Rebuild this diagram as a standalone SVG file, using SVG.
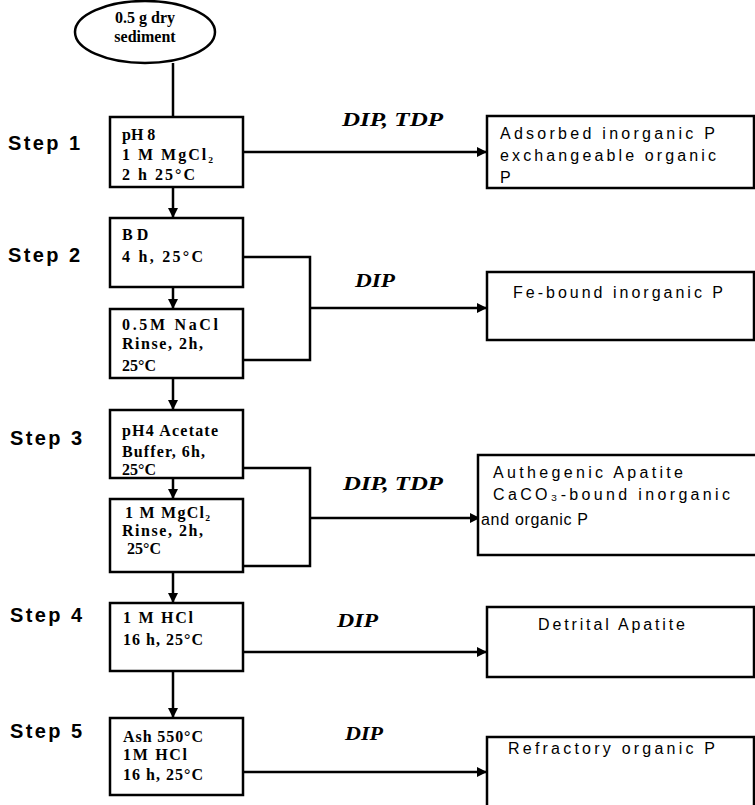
<svg xmlns="http://www.w3.org/2000/svg" width="755" height="805" viewBox="0 0 755 805">
<style>
.box{fill:#fff;stroke:#000;stroke-width:2.5}
.ln{fill:none;stroke:#000;stroke-width:2.5}
.st{font-family:"Liberation Sans",Arial,sans-serif;font-weight:bold;font-size:20px;fill:#000}
.lt{font-family:"Liberation Serif","Times New Roman",serif;font-weight:bold;font-size:16px;fill:#000}
.rt{font-family:"Liberation Sans",Arial,sans-serif;font-size:16px;fill:#000}
.lb{font-family:"Liberation Serif","Times New Roman",serif;font-style:italic;font-weight:bold;font-size:18px;fill:#000}
</style>
<defs>
<marker id="ah" viewBox="0 0 10 10" refX="10" refY="5" markerWidth="10" markerHeight="10" markerUnits="userSpaceOnUse" orient="auto">
<path d="M0,0 L10,5 L0,10 z" fill="#000"/>
</marker>
</defs>

<g id="connectors">
<line class="ln" x1="173" y1="63" x2="173" y2="117"/>
<line class="ln" x1="173" y1="187" x2="173" y2="218" marker-end="url(#ah)"/>
<line class="ln" x1="173" y1="287" x2="173" y2="309" marker-end="url(#ah)"/>
<line class="ln" x1="173" y1="378" x2="173" y2="410" marker-end="url(#ah)"/>
<line class="ln" x1="173" y1="478" x2="173" y2="499" marker-end="url(#ah)"/>
<line class="ln" x1="173" y1="572" x2="173" y2="603" marker-end="url(#ah)"/>
<line class="ln" x1="173" y1="671" x2="173" y2="718" marker-end="url(#ah)"/>
<line class="ln" x1="243" y1="152" x2="487" y2="152" marker-end="url(#ah)"/>
<polyline class="ln" points="243,257 310,257 310,360 243,360"/>
<line class="ln" x1="310" y1="308" x2="487" y2="308" marker-end="url(#ah)"/>
<polyline class="ln" points="243,468 310,468 310,566 243,566"/>
<line class="ln" x1="310" y1="518" x2="480" y2="518" marker-end="url(#ah)"/>
<line class="ln" x1="243" y1="652" x2="487" y2="652" marker-end="url(#ah)"/>
<line class="ln" x1="243" y1="772" x2="487" y2="772" marker-end="url(#ah)"/>
<text class="lb" x="342" y="126" textLength="101" lengthAdjust="spacingAndGlyphs">DIP, TDP</text>
<text class="lb" x="355" y="287" textLength="40" lengthAdjust="spacingAndGlyphs">DIP</text>
<text class="lb" x="343" y="490" textLength="100" lengthAdjust="spacingAndGlyphs">DIP, TDP</text>
<text class="lb" x="337" y="627" textLength="41" lengthAdjust="spacingAndGlyphs">DIP</text>
<text class="lb" x="345" y="740" textLength="38" lengthAdjust="spacingAndGlyphs">DIP</text>
</g>

<g id="start">
<ellipse class="box" cx="145" cy="32" rx="70" ry="31"/>
<text class="lt" x="145" y="23" text-anchor="middle" font-size="15">0.5 g dry</text>
<text class="lt" x="145" y="42" text-anchor="middle" font-size="14">sediment</text>
</g>

<g id="labels">
<text class="st" x="8" y="150" textLength="72">Step 1</text>
<text class="st" x="8" y="262" textLength="72">Step 2</text>
<text class="st" x="10" y="445" textLength="72">Step 3</text>
<text class="st" x="10" y="622" textLength="72">Step 4</text>
<text class="st" x="10" y="738" textLength="72">Step 5</text>
</g>

<g id="step1">
<rect class="box" x="110" y="117" width="133" height="70"/>
<text class="lt" x="122" y="140">pH 8</text>
<text class="lt" x="122" y="160" textLength="91">1 M MgCl₂</text>
<text class="lt" x="122" y="180" textLength="73">2 h  25°C</text>
</g>

<g id="step2a">
<rect class="box" x="110" y="218" width="133" height="69"/>
<text class="lt" x="122" y="240">B D</text>
<text class="lt" x="122" y="262" textLength="81">4 h, 25°C</text>
</g>

<g id="step2b">
<rect class="box" x="110" y="309" width="133" height="69"/>
<text class="lt" x="122" y="330" textLength="96">0.5M NaCl</text>
<text class="lt" x="122" y="349" textLength="81">Rinse, 2h,</text>
<text class="lt" x="122" y="371">25°C</text>
</g>

<g id="step3a">
<rect class="box" x="110" y="410" width="133" height="68"/>
<text class="lt" x="122" y="436" textLength="96">pH4 Acetate</text>
<text class="lt" x="122" y="457" textLength="83">Buffer, 6h,</text>
<text class="lt" x="122" y="475">25°C</text>
</g>

<g id="step3b">
<rect class="box" x="110" y="499" width="133" height="73"/>
<text class="lt" x="125" y="518" textLength="85">1 M MgCl₂</text>
<text class="lt" x="122" y="536" textLength="81">Rinse, 2h,</text>
<text class="lt" x="127" y="554">25°C</text>
</g>

<g id="step4">
<rect class="box" x="110" y="603" width="133" height="68"/>
<text class="lt" x="123" y="623" textLength="70">1 M HCl</text>
<text class="lt" x="123" y="645" textLength="80">16 h, 25°C</text>
</g>

<g id="step5">
<rect class="box" x="110" y="718" width="133" height="77"/>
<text class="lt" x="123" y="742" textLength="80">Ash 550°C</text>
<text class="lt" x="123" y="760" textLength="64">1M HCl</text>
<text class="lt" x="123" y="780" textLength="80">16 h, 25°C</text>
</g>

<g id="res1">
<rect class="box" x="487" y="116" width="267" height="72"/>
<text class="rt" x="500" y="139" textLength="215">Adsorbed inorganic P</text>
<text class="rt" x="500" y="161" textLength="216">exchangeable organic</text>
<text class="rt" x="500" y="183">P</text>
</g>

<g id="res2">
<rect class="box" x="487" y="272" width="267" height="68"/>
<text class="rt" x="513" y="298" textLength="210">Fe-bound inorganic P</text>
</g>

<g id="res3">
<rect class="box" x="478" y="455" width="290" height="100"/>
<text class="rt" x="493" y="478" textLength="190">Authegenic Apatite</text>
<text class="rt" x="493" y="500" textLength="237">CaCO₃-bound inorganic</text>
<text class="rt" x="481" y="525" textLength="107">and organic P</text>
</g>

<g id="res4">
<rect class="box" x="487" y="607" width="267" height="70"/>
<text class="rt" x="538" y="630" textLength="147">Detrital Apatite</text>
</g>

<g id="res5">
<rect class="box" x="487" y="737" width="267" height="80"/>
<text class="rt" x="508" y="754" textLength="207">Refractory organic P</text>
</g>
</svg>
